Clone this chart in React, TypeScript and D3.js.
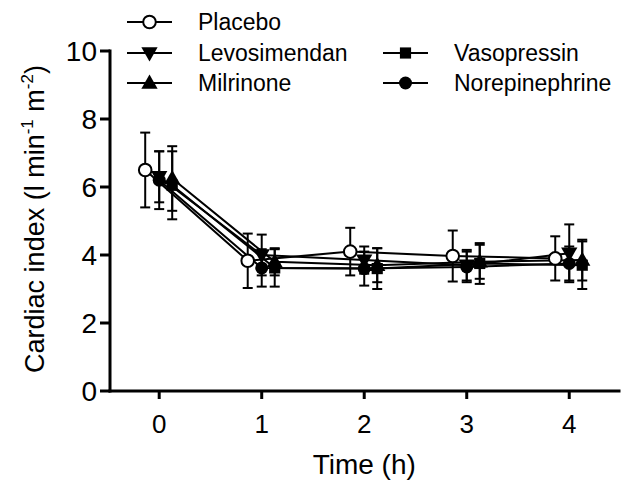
import React from "react";
import * as d3 from "d3";

const hours = [0, 1, 2, 3, 4];
const yTicks = [0, 2, 4, 6, 8, 10];

const seriesNames = ["Placebo", "Levosimendan", "Milrinone", "Vasopressin", "Norepinephrine"];

const placeboMean = [6.5, 3.83, 4.1, 3.97, 3.9];
const placeboSd = [1.1, 0.8, 0.7, 0.75, 0.65];
const levoMean = [6.3, 4.0, 3.85, 3.7, 4.05];
const levoSd = [0.75, 0.6, 0.4, 0.45, 0.85];
const milMean = [6.25, 3.8, 3.7, 3.8, 3.85];
const milSd = [0.95, 0.4, 0.5, 0.5, 0.6];
const vasoMean = [6.05, 3.62, 3.6, 3.75, 3.7];
const vasoSd = [1.0, 0.55, 0.6, 0.6, 0.7];
const norMean = [6.2, 3.62, 3.6, 3.65, 3.75];
const norSd = [0.85, 0.55, 0.5, 0.45, 0.5];

const means: Record<string, number[]> = {
  Placebo: placeboMean,
  Levosimendan: levoMean,
  Milrinone: milMean,
  Vasopressin: vasoMean,
  Norepinephrine: norMean,
};
const sds: Record<string, number[]> = {
  Placebo: placeboSd,
  Levosimendan: levoSd,
  Milrinone: milSd,
  Vasopressin: vasoSd,
  Norepinephrine: norSd,
};

// horizontal nudge (px) so the groups don't hide each other
const nudge: Record<string, number> = {
  Placebo: -14,
  Levosimendan: 0,
  Milrinone: 13,
  Vasopressin: 13,
  Norepinephrine: 0,
};

const FONT = "'Liberation Sans', Arial, sans-serif";

const x = d3.scaleLinear().domain([-0.48, 4.5]).range([110, 620.5]);
const y = d3.scaleLinear().domain([0, 10]).range([391, 51]);

const Marker: React.FC<{ name: string; cx: number; cy: number }> = ({ name, cx, cy }) => {
  if (name === "Placebo")
    return <circle cx={cx} cy={cy} r={6.3} fill="#fff" stroke="#000" strokeWidth={2} />;
  if (name === "Norepinephrine")
    return <circle cx={cx} cy={cy} r={6.5} fill="#000" />;
  if (name === "Vasopressin")
    return <path d={d3.symbol().type(d3.symbolSquare).size(125)()!} transform={`translate(${cx},${cy})`} fill="#000" />;
  const tri = d3.symbol().type(d3.symbolTriangle).size(115)()!;
  if (name === "Levosimendan")
    return <path d={tri} transform={`translate(${cx},${cy - 1}) rotate(180)`} fill="#000" />;
  return <path d={tri} transform={`translate(${cx},${cy + 1})`} fill="#000" />;
};

const legendItems = [
  { name: "Placebo", col: 0, row: 0 },
  { name: "Levosimendan", col: 0, row: 1 },
  { name: "Milrinone", col: 0, row: 2 },
  { name: "Vasopressin", col: 1, row: 1 },
  { name: "Norepinephrine", col: 1, row: 2 },
];

export default function App() {
  const line = d3
    .line<number>()
    .x((_, i) => x(hours[i]))
    .y((d) => y(d));

  return (
    <div style={{ position: "absolute", left: 0, top: 0 }}>
      <svg width={628} height={481} style={{ display: "block", background: "#fff" }} fontFamily={FONT}>
        {/* legend */}
        {legendItems.map((it) => {
          const lx = it.col === 0 ? 127 : 383;
          const ly = [22, 53, 83][it.row];
          return (
            <g key={it.name}>
              <line x1={lx} x2={lx + 45} y1={ly} y2={ly} stroke="#000" strokeWidth={2} />
              <Marker name={it.name} cx={lx + 22.5} cy={ly} />
              <text x={lx + 71} y={ly} dy="0.36em" fontSize={23}>
                {it.name}
              </text>
            </g>
          );
        })}

        {/* connecting lines */}
        {seriesNames.map((n) => (
          <path
            key={n}
            d={line(means[n])!}
            transform={`translate(${nudge[n]},0)`}
            fill="none"
            stroke="#000"
            strokeWidth={2}
          />
        ))}

        {/* error bars */}
        {seriesNames.map((n) =>
          hours.map((h, i) => {
            const cx = x(h) + nudge[n];
            const top = y(means[n][i] + sds[n][i]);
            const bot = y(means[n][i] - sds[n][i]);
            return (
              <g key={n + h} stroke="#000" strokeWidth={2}>
                <line x1={cx} x2={cx} y1={top} y2={bot} />
                <line x1={cx - 5} x2={cx + 5} y1={top} y2={top} />
                <line x1={cx - 5} x2={cx + 5} y1={bot} y2={bot} />
              </g>
            );
          })
        )}

        {/* markers */}
        {seriesNames.map((n) =>
          hours.map((h, i) => (
            <Marker key={n + h} name={n} cx={x(h) + nudge[n]} cy={y(means[n][i])} />
          ))
        )}

        {/* y axis */}
        <line x1={110} x2={110} y1={y(10) - 1.5} y2={y(0) + 1.5} stroke="#000" strokeWidth={3} />
        {yTicks.map((t) => (
          <g key={t}>
            <line x1={100} x2={110} y1={y(t)} y2={y(t)} stroke="#000" strokeWidth={3} />
            <text x={97} y={y(t)} dy="0.36em" textAnchor="end" fontSize={28}>
              {t}
            </text>
          </g>
        ))}

        {/* x axis */}
        <line x1={108.5} x2={x(4.5)} y1={391} y2={391} stroke="#000" strokeWidth={3} />
        {hours.map((h) => (
          <g key={h}>
            <line x1={x(h)} x2={x(h)} y1={391} y2={399} stroke="#000" strokeWidth={3} />
            <text x={x(h)} y={433} textAnchor="middle" fontSize={26}>
              {h}
            </text>
          </g>
        ))}

        <text x={x(2)} y={474} textAnchor="middle" fontSize={28}>
          Time (h)
        </text>
        <text transform={`translate(44,${(y(0) + y(10)) / 2 - 2}) rotate(-90)`} textAnchor="middle" fontSize={27}>
          Cardiac index (l min
          <tspan fontSize={17} dy={-11}>-1</tspan>
          <tspan dy={11}> m</tspan>
          <tspan fontSize={17} dy={-11}>-2</tspan>
          <tspan dy={11}>)</tspan>
        </text>
      </svg>
    </div>
  );
}
